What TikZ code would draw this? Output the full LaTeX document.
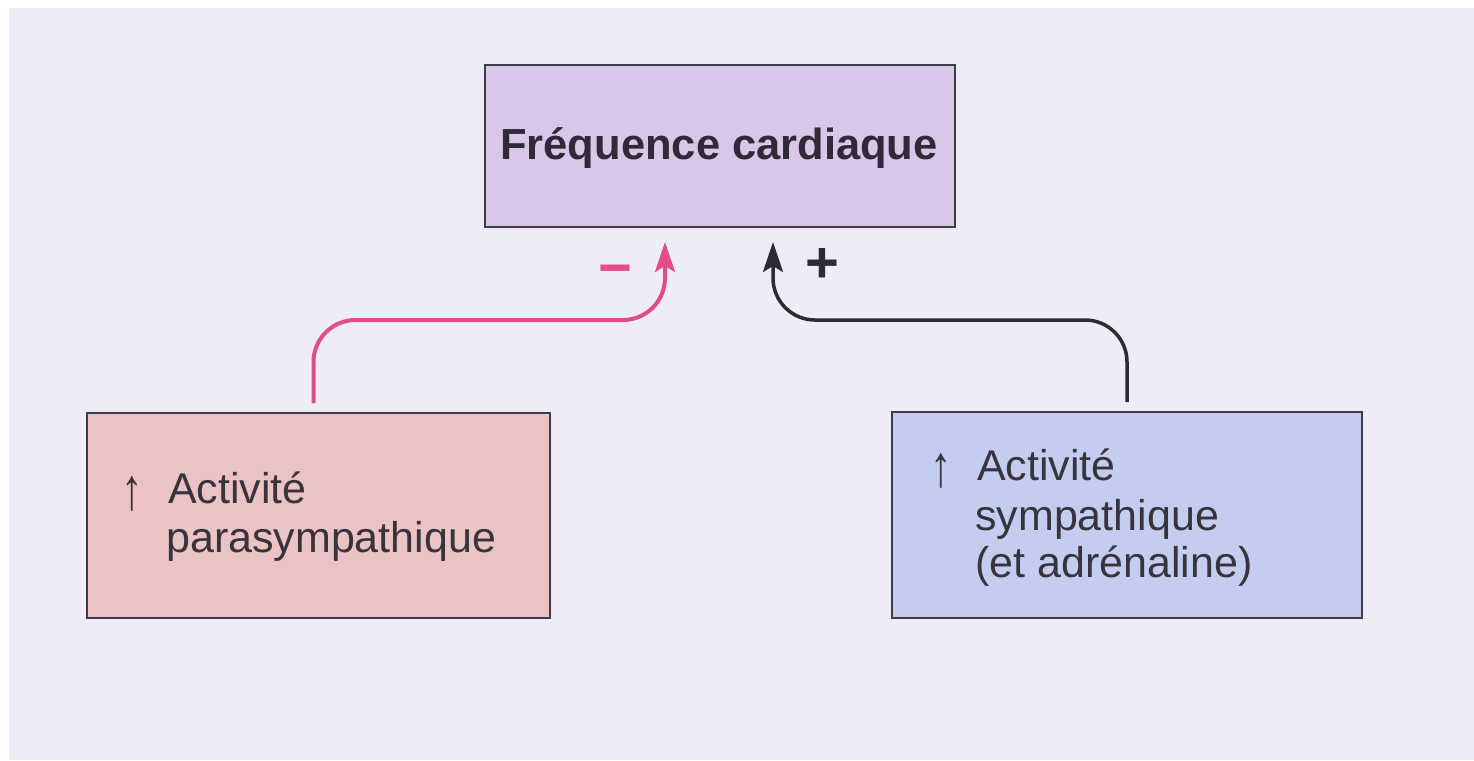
\documentclass[tikz,border=0pt]{standalone}
\usepackage{fontspec}
\usepackage{graphicx}
\setmainfont{Liberation Sans}
\usetikzlibrary{arrows.meta}

\definecolor{pagebg}{RGB}{238,236,246}
\definecolor{heartfill}{RGB}{217,199,234}
\definecolor{parafill}{RGB}{236,195,196}
\definecolor{sympfill}{RGB}{196,205,240}
\definecolor{edgegrey}{RGB}{62,60,70}
\definecolor{inkdark}{RGB}{48,42,56}
\definecolor{inkgrey}{RGB}{56,52,62}
\definecolor{paraink}{RGB}{226,76,140}
\definecolor{sympink}{RGB}{44,44,54}

\tikzset{
  box/.style={draw=edgegrey, line width=2pt, rectangle, inner sep=0pt},
  boxtext/.style={anchor=base west, inner sep=0pt, text=inkgrey,
    font=\fontsize{43}{49}\selectfont},
  uparrowglyph/.style={anchor=base, inner sep=0pt, text=inkgrey,
    font=\fontsize{43}{49}\selectfont},
  link/.style={line width=4pt, rounded corners=42pt,
    -{Stealth[length=30pt, width=20pt, inset=6pt]},
    shorten <=9pt, shorten >=14pt},
  sign/.style={inner sep=0pt, font=\bfseries\fontsize{58}{60}\selectfont}
}

\begin{document}
\begin{tikzpicture}[x=1pt, y=-1pt]
  % page: white border strip at top and left, lavender paper elsewhere
  \useasboundingbox (0,0) rectangle (1474,760);
  \fill[white] (0,0) rectangle (1474,760);
  \fill[pagebg] (9,8) rectangle (1474,760);

  % boxes
  \node[box, fill=heartfill, minimum width=470pt, minimum height=162pt]
    (heart) at (720,146) {};
  \node[box, fill=parafill, minimum width=463pt, minimum height=205pt]
    (para) at (318.5,515.5) {};
  \node[box, fill=sympfill, minimum width=470pt, minimum height=206pt]
    (symp) at (1127,515) {};

  % texts
  \node[anchor=base, inner sep=0pt, text=inkdark,
        font=\bfseries\fontsize{43.5}{49}\selectfont]
    (heartlabel) at (719,159) {Fréquence cardiaque};

  \node[uparrowglyph] (paraup) at (132,509) {\scalebox{1}[1.37]{↑}};
  \node[boxtext] (para1) at (168,503) {Activité};
  \node[boxtext] (para2) at (166,552) {parasympathique};

  \node[uparrowglyph] (sympup) at (941,486) {\scalebox{1}[1.37]{↑}};
  \node[boxtext] (symp1) at (977,480) {Activité};
  \node[boxtext] (symp2) at (975,530) {sympathique};
  \node[boxtext] (symp3) at (975,577) {(et adrénaline)};

  % connectors
  \coordinate (lane) at (0,320);
  \draw[link, draw=paraink, fill=none]
    ([xshift=-5pt]para.north) -- ([xshift=-5pt]para.north |- lane)
    -- (lane -| 665,0) -- (heart.south -| 665,0);
  \draw[link, draw=sympink, line width=3.5pt]
    (symp.north) -- (symp.north |- lane)
    -- (lane -| 773,0) -- (heart.south -| 773,0);

  % signs
  \node[sign, text=paraink] (minus) at (615,276) {−};
  \node[sign, text=sympink] (plus) at (822,265) {+};
\end{tikzpicture}
\end{document}
